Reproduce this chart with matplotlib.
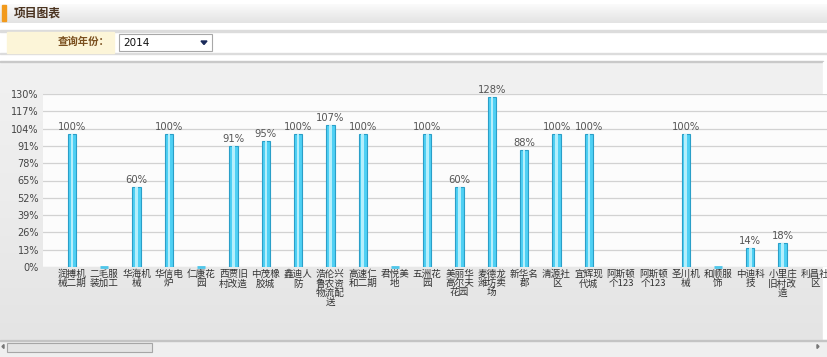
import numpy as np
import matplotlib.pyplot as plt
from matplotlib.colors import LinearSegmentedColormap
from matplotlib.patches import Rectangle, Polygon

plt.rcParams['font.family'] = ['Noto Sans CJK SC', 'DejaVu Sans']

# data
projects = ["润搏机械二期", "二毛服装加工", "华海机械", "华信电炉", "仁康花园", "西贾旧村改造",
            "中茂橡胶城", "鑫迪人防", "浩伦兴鲁农资物流配送", "高速仁和二期", "君悦美地", "五洲花园",
            "美丽华高尔夫花园", "麦德龙潍坊卖场", "新华名郡", "清源社区", "宜辉现代城", "阿斯顿个123",
            "阿斯顿个123", "圣川机械", "和顺服饰", "中迪科技", "小里庄旧村改造", "利昌社区"]
completion = [100, 0, 60, 100, 0, 91, 95, 100, 107, 100, 0, 100, 60, 128, 88, 100, 100,
              None, None, 100, 0, 14, 18, None]
y_ticks = list(range(0, 131, 13))
year = "2014"

W, H = 827, 357
fig = plt.figure(figsize=(W / 100, H / 100), dpi=100)


def box(x0, y0, x1, y1):
    # pixel box (top-left origin) -> figure fraction rect
    return [x0 / W, 1 - y1 / H, (x1 - x0) / W, (y1 - y0) / H]


def wrap(name, width=6):
    lines, cur, w = [], "", 0
    for ch in name:
        cw = 1 if ch.isascii() else 2
        if w + cw > width:
            lines.append(cur)
            cur, w = "", 0
        cur += ch
        w += cw
    lines.append(cur)
    return "\n".join(lines)


# page background drawn in pixel coordinates
bg = fig.add_axes([0, 0, 1, 1])
bg.set_xlim(0, W)
bg.set_ylim(H, 0)
bg.axis("off")

grad = np.linspace(0, 1, 50).reshape(-1, 1)
bg.imshow(grad, extent=(0, W, 23, 4), aspect="auto",
          cmap=LinearSegmentedColormap.from_list("t", ["#fbfbfb", "#e3e3e3"]))
bg.add_patch(Rectangle((2, 5), 4, 16, color="#f29a1c"))
bg.text(14, 13.5, "项目图表", fontsize=8.5, fontweight="bold", color="#4a3320", va="center")

bg.add_patch(Rectangle((0, 30), W, 1.5, color="#dcdcdc"))
bg.add_patch(Rectangle((0, 52.5), W, 1.5, color="#dcdcdc"))
bg.add_patch(Rectangle((7, 31.5), 107, 21, color="#fcf5d8"))
bg.text(110, 42, "查询年份：", fontsize=7.5, fontweight="bold", color="#7a4f1e", ha="right", va="center")
bg.add_patch(Rectangle((119, 34), 93, 17, facecolor="white", edgecolor="#a8a8a8", lw=0.8))
bg.text(123, 42.5, year, fontsize=7.5, color="#111111", va="center", family="DejaVu Sans")
bg.add_patch(Polygon([[201, 41], [207, 41], [204, 44.5]], color="#1a2a5a"))

# chart container
cont = np.linspace(0, 1, 80).reshape(-1, 1)
bg.imshow(cont, extent=(0, 823, 340, 62), aspect="auto",
          cmap=LinearSegmentedColormap.from_list("c", ["#f1f1f1", "#ececec", "#e4e4e4"]))
bg.add_patch(Rectangle((0, 60.5), 823, 1.5, color="#c9c9c9"))
bg.add_patch(Rectangle((823, 62), 4, 278, color="#ffffff"))

# scrollbar
bg.add_patch(Rectangle((0, 340), W, 17, color="#efefef"))
bg.add_patch(Rectangle((0, 340), W, 1, color="#c4c4c4"))
bg.add_patch(Rectangle((7, 342.5), 145, 9, facecolor="#e4e4e4", edgecolor="#a6a6a6", lw=0.8))
bg.add_patch(Polygon([[2, 346.5], [4, 344.5], [4, 348.5]], color="#777777"))
bg.add_patch(Polygon([[817, 344.5], [817, 348.5], [819, 346.5]], color="#777777"))

# chart
x0_px, step = 72, 32.3
ax = fig.add_axes(box(43, 94, W, 267))
ax.set_facecolor("#fcfcfc")
ax.set_xlim(-(x0_px - 43) / step, (W - x0_px) / step)
ax.set_ylim(0, 130)

for t in y_ticks:
    ax.axhline(t, color="#d2d2d2", lw=0.9, zorder=1)

idx = [i for i, v in enumerate(completion) if v is not None]
vals = [completion[i] for i in idx]
ax.bar(idx, vals, width=0.26, color="#4fd0f4", edgecolor="#2a9fc8", lw=0.8, zorder=3)
ax.bar(idx, vals, width=0.08, color="#b5effc", lw=0, zorder=4)
# flat stubs that mark the zero-valued projects
zero_idx = [i for i, v in zip(idx, vals) if v == 0]
ax.scatter(zero_idx, [0] * len(zero_idx), marker="_", s=40, color="#4fc6ea", lw=2, zorder=4,
           clip_on=False)

for i, v in zip(idx, vals):
    if v > 0:
        ax.text(i, v + 1.5, f"{v}%", ha="center", va="bottom", fontsize=7.2, color="#555555",
                family="DejaVu Sans", zorder=5)

ax.set_yticks(y_ticks)
ax.set_yticklabels([f"{t}%" for t in y_ticks], fontsize=7, color="#444444", family="DejaVu Sans")
ax.set_xticks(range(len(projects)))
ax.set_xticklabels([wrap(p) for p in projects], fontsize=6.9, color="#333333", linespacing=1.0)
ax.tick_params(length=0, pad=3)
ax.tick_params(axis="x", pad=2)
for s in ax.spines.values():
    s.set_visible(False)

fig.savefig("out.png", dpi=100)
